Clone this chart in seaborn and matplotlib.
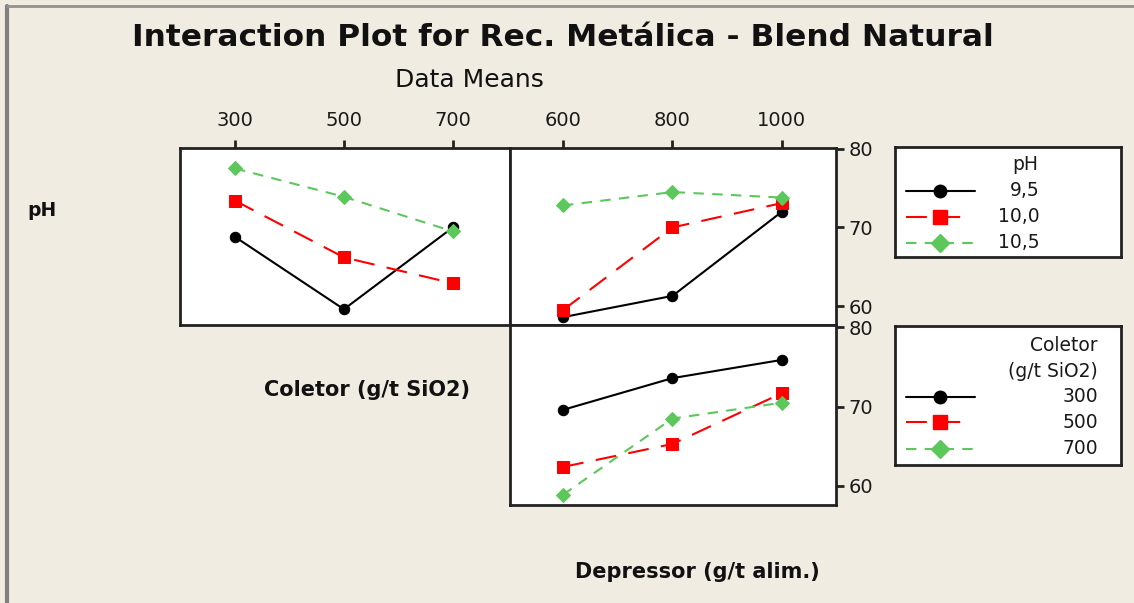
import matplotlib
matplotlib.use("Agg")
import matplotlib.pyplot as plt
import seaborn as sns
import pandas as pd
from matplotlib.lines import Line2D

# ---- data: means of Rec. Metálica ----
coletor_levels = [300, 500, 700]
depressor_levels = [600, 800, 1000]
ph_labels = ["9,5", "10,0", "10,5"]
coletor_labels = ["300", "500", "700"]

# pH x Coletor
ph_by_coletor_95 = [68.8, 59.6, 70.0]
ph_by_coletor_100 = [73.4, 66.2, 62.9]
ph_by_coletor_105 = [77.5, 73.9, 69.5]

# pH x Depressor
ph_by_depressor_95 = [58.6, 61.3, 72.0]
ph_by_depressor_100 = [59.5, 70.0, 73.1]
ph_by_depressor_105 = [72.8, 74.5, 73.8]

# Coletor x Depressor
col_by_depressor_300 = [69.6, 73.6, 75.9]
col_by_depressor_500 = [62.4, 65.3, 71.7]
col_by_depressor_700 = [58.9, 68.5, 70.5]

W, H = 1134, 603
BG = "#F0ECE2"
colors = ["#000000", "#FF0000", "#5CC85C"]
markers = ["o", "s", "D"]
msizes = [7.5, 8, 7.5]
dash_styles = [None, (10, 6), (5, 4)]
legend_line_end = [975, 969, 975]

sns.set_theme(style="white")
plt.rcParams["font.family"] = ["DejaVu Sans"]

fig = plt.figure(figsize=(W / 100, H / 100), dpi=100, facecolor=BG)


def rect(x0, y0, x1, y1):
    return [x0 / W, 1 - y1 / H, (x1 - x0) / W, (y1 - y0) / H]


def long_frame(xvals, series, labels, xname, hname):
    rows = []
    for lab, ys in zip(labels, series):
        for xv, yv in zip(xvals, ys):
            rows.append({xname: xv, "Rec": yv, hname: lab})
    return pd.DataFrame(rows)


def draw_panel(ax, df, xname, hname, labels):
    for i, lab in enumerate(labels):
        sub = df[df[hname] == lab]
        sns.lineplot(data=sub, x=xname, y="Rec", ax=ax, color=colors[i],
                     marker=markers[i], markersize=msizes[i],
                     markeredgecolor=colors[i], linewidth=1.5)
        if dash_styles[i] is not None:
            ax.lines[-1].set_dashes(dash_styles[i])
    ax.set_xlabel("")
    ax.set_ylabel("")
    ax.set_facecolor("white")
    for s in ax.spines.values():
        s.set_color("#222222")
        s.set_linewidth(2)


ax_tl = fig.add_axes(rect(180, 148, 510, 325))
ax_tr = fig.add_axes(rect(510, 148, 836, 325))
ax_br = fig.add_axes(rect(510, 325, 836, 505))

df_tl = long_frame(coletor_levels,
                   [ph_by_coletor_95, ph_by_coletor_100, ph_by_coletor_105],
                   ph_labels, "Coletor", "pH")
df_tr = long_frame(depressor_levels,
                   [ph_by_depressor_95, ph_by_depressor_100, ph_by_depressor_105],
                   ph_labels, "Depressor", "pH")
df_br = long_frame(depressor_levels,
                   [col_by_depressor_300, col_by_depressor_500, col_by_depressor_700],
                   coletor_labels, "Depressor", "Coletor")

draw_panel(ax_tl, df_tl, "Coletor", "pH", ph_labels)
draw_panel(ax_tr, df_tr, "Depressor", "pH", ph_labels)
draw_panel(ax_br, df_br, "Depressor", "Coletor", coletor_labels)

ax_tl.set_xlim(199, 805)
ax_tr.set_xlim(503, 1099)
ax_br.set_xlim(503, 1099)
ax_tl.set_ylim(57.6, 80.1)
ax_tr.set_ylim(57.6, 80.1)
ax_br.set_ylim(57.6, 80.3)

tick_kw = dict(length=6, width=2, color="#222222", labelsize=14,
               labelcolor="#1a1a1a")

ax_tl.set_xticks(coletor_levels)
ax_tl.xaxis.tick_top()
ax_tl.tick_params(axis="x", direction="out", pad=7, **tick_kw)
ax_tl.set_yticks([])

ax_tr.set_xticks(depressor_levels)
ax_tr.xaxis.tick_top()
ax_tr.tick_params(axis="x", direction="out", pad=7, **tick_kw)
ax_tr.set_yticks([60, 70, 80])
ax_tr.yaxis.tick_right()
ax_tr.tick_params(axis="y", direction="out", pad=3, **tick_kw)

ax_br.set_xticks([])
ax_br.set_yticks([60, 70, 80])
ax_br.yaxis.tick_right()
ax_br.tick_params(axis="y", direction="out", pad=3, **tick_kw)

# ---- titles and factor labels ----
fig.text(563 / W, 1 - 37 / H, "Interaction Plot for Rec. Metálica - Blend Natural",
         ha="center", va="center", fontsize=22.5, fontweight="bold", color="#111111")
fig.text(469 / W, 1 - 80 / H, "Data Means", ha="center", va="center",
         fontsize=18, color="#111111")
fig.text(27 / W, 1 - 210 / H, "pH", ha="left", va="center",
         fontsize=13.5, fontweight="bold", color="#111111")
fig.text(367 / W, 1 - 390 / H, "Coletor (g/t SiO2)", ha="center", va="center",
         fontsize=15, fontweight="bold", color="#111111")
fig.text(697 / W, 1 - 572 / H, "Depressor (g/t alim.)", ha="center", va="center",
         fontsize=15, fontweight="bold", color="#111111")


# ---- legends ----
def legend_box(x0, y0, x1, y1, title_lines, title_y, entries, entry_y, text_x, title_x):
    lax = fig.add_axes(rect(x0, y0, x1, y1))
    lax.set_xlim(x0, x1)
    lax.set_ylim(y1, y0)
    lax.set_xticks([])
    lax.set_yticks([])
    lax.set_facecolor("white")
    for s in lax.spines.values():
        s.set_color("#222222")
        s.set_linewidth(2)
    for t, ty in zip(title_lines, title_y):
        lax.text(title_x, ty, t, ha="right", va="center", fontsize=13.5, color="#1a1a1a")
    for i, (lab, ey) in enumerate(zip(entries, entry_y)):
        ln = Line2D([906, legend_line_end[i]], [ey, ey], color=colors[i], linewidth=1.5)
        if dash_styles[i] is not None:
            ln.set_dashes(dash_styles[i])
        lax.add_line(ln)
        lax.add_line(Line2D([940], [ey], color=colors[i], marker=markers[i],
                            markersize=msizes[i] + 1.5, markeredgecolor=colors[i]))
        lax.text(text_x, ey, lab, ha="right", va="center", fontsize=13.5, color="#1a1a1a")


legend_box(895, 147, 1121, 257, ["pH"], [165], ph_labels, [191, 217, 243], 1040, 1038)
legend_box(895, 326, 1121, 465, ["Coletor", "(g/t SiO2)"], [346, 372],
           coletor_labels, [397, 422, 449], 1098, 1098)

# ---- window frame ----
fig.add_artist(Line2D([7 / W, 7 / W], [0, 1 - 6 / H], color="#808080", linewidth=3,
                      transform=fig.transFigure))
fig.add_artist(Line2D([7 / W, 1], [1 - 6 / H, 1 - 6 / H], color="#909090", linewidth=2,
                      transform=fig.transFigure))

fig.savefig("out.png", dpi=100, facecolor=BG)
